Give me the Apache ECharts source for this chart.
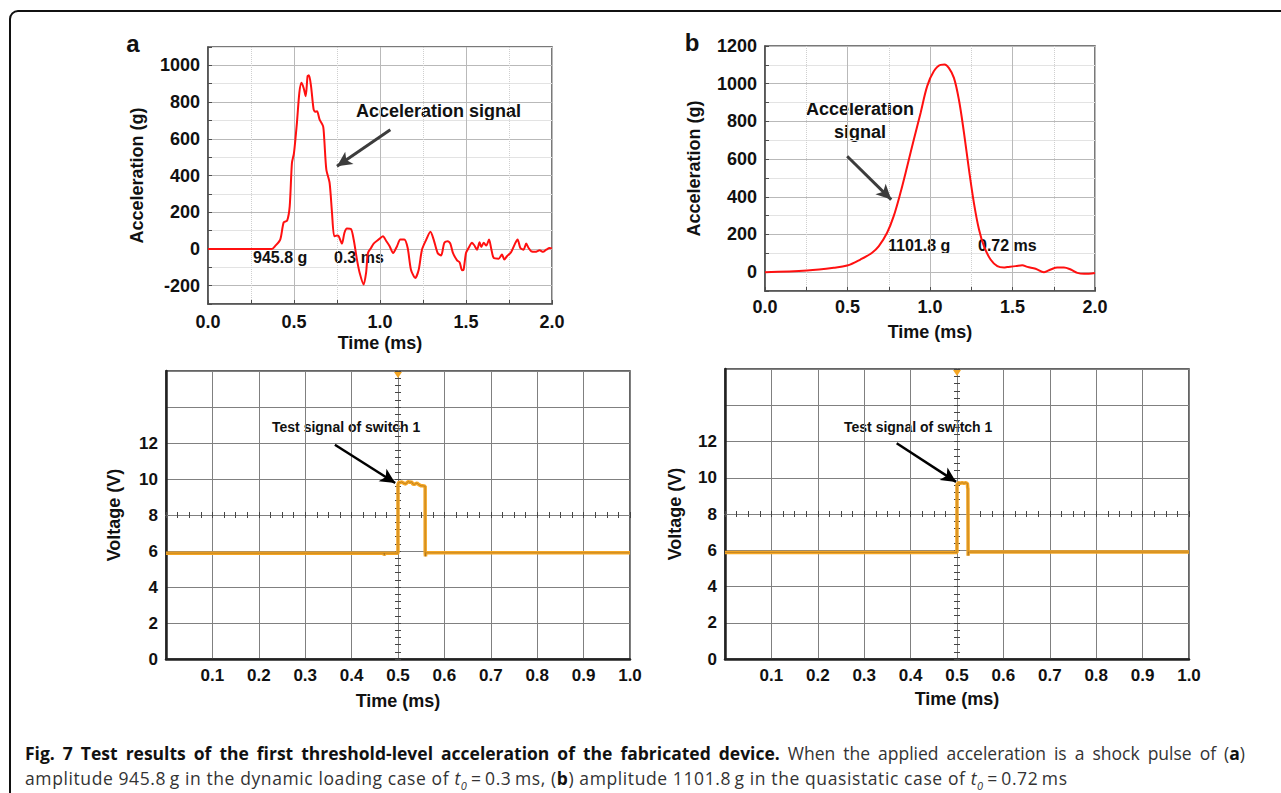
<!DOCTYPE html>
<html>
<head>
<meta charset="utf-8">
<script src="https://cdn.jsdelivr.net/npm/echarts@6/dist/echarts.min.js"></script>
<style>
html, body { margin: 0; padding: 0; background: #fff; }
#wrap { position: relative; width: 1281px; height: 793px; overflow: hidden; }
#frame { position: absolute; left: 9px; top: 10px; width: 1320px; height: 810px; border: 2.5px solid #111; border-radius: 9px; box-sizing: border-box; }
#chart { position: absolute; left: 0; top: 0; width: 1281px; height: 793px; }
.cap { position: absolute; left: 25px; font-family: 'Open Sans', sans-serif; font-size: 17.5px; line-height: 23px; color: #333; }
.cap b { color: #111; }
#cap1 { top: 742px; width: 1220px; text-align: justify; text-align-last: justify; }
#cap2 { top: 767px; white-space: nowrap; letter-spacing: 0.6px; }
</style>
</head>
<body>
<div id="wrap">
  <div id="frame"></div>
  <div id="chart"></div>
  <div class="cap" id="cap1"><b>Fig. 7 Test results of the first threshold-level acceleration of the fabricated device.</b> When the applied acceleration is a shock pulse of (<b>a</b>)</div>
  <div class="cap" id="cap2">amplitude 945.8&thinsp;g in the dynamic loading case of <i>t<sub style="font-size:11px">0</sub></i>&thinsp;=&thinsp;0.3&thinsp;ms, (<b>b</b>) amplitude 1101.8&thinsp;g in the quasistatic case of <i>t<sub style="font-size:11px">0</sub></i>&thinsp;=&thinsp;0.72&thinsp;ms</div>
</div>
<script>
// (a) 加速度信号, 动态加载 t0 = 0.3 ms
var t_a = [0, 0.2, 0.372, 0.39, 0.42, 0.44, 0.46, 0.475, 0.488, 0.5, 0.517, 0.531, 0.543, 0.556, 0.568, 0.579, 0.587, 0.599, 0.614, 0.624,
    0.634, 0.649, 0.669, 0.676, 0.688, 0.707, 0.721, 0.734, 0.75, 0.76, 0.779, 0.793, 0.808, 0.831, 0.847, 0.866, 0.882, 0.905, 0.919, 0.93,
    0.948, 0.963, 0.992, 1.017, 1.037, 1.056, 1.076, 1.099, 1.118, 1.141, 1.161, 1.18, 1.205, 1.225, 1.244, 1.269, 1.293, 1.312, 1.335, 1.355,
    1.374, 1.393, 1.409, 1.424, 1.448, 1.463, 1.477, 1.486, 1.5, 1.515, 1.535, 1.548, 1.564, 1.579, 1.589, 1.603, 1.618, 1.634, 1.647, 1.661,
    1.69, 1.709, 1.723, 1.738, 1.762, 1.787, 1.8, 1.816, 1.835, 1.85, 1.864, 1.88, 1.903, 1.928, 1.948, 1.967, 1.986, 2.0];
var acc_a = [0, 0, 0, 15, 51, 145, 154, 232, 469, 523, 687, 850, 905, 877, 832, 941, 945.8, 887, 760, 747,
    750, 705, 669, 596, 432, 360, 196, 69, 73, 69, 29, 87, 111, 109, 51, -58, -131, -194, -131, -22,
    5, 29, 51, 69, 42, 15, -22, 15, 51, 51, 5, -113, -158, -113, -4, 51, 93, 51, -22, -36,
    33, 42, 29, -22, -62, -73, -116, -113, -22, 5, 33, 20, -4, 36, 11, 33, 18, 51, 0, -49,
    -53, -31, -58, -40, -18, 33, 51, 5, -4, 29, 5, -13, -16, -7, -16, -4, 5, 3];

// (b) 加速度信号, 准静态 t0 = 0.72 ms
var t_b = [0, 0.255, 0.417, 0.498, 0.578, 0.649, 0.69, 0.74, 0.78, 0.821, 0.862, 0.902, 0.943, 0.983, 1.023, 1.064, 1.088, 1.114, 1.145, 1.175,
    1.206, 1.236, 1.266, 1.297, 1.327, 1.367, 1.408, 1.448, 1.468, 1.519, 1.559, 1.59, 1.64, 1.691, 1.731, 1.772, 1.812, 1.853, 1.893, 1.934, 2.0];
var acc_b = [0, 9, 23, 35, 67, 103, 138, 209, 297, 421, 562, 704, 845, 987, 1066, 1100, 1101.8, 1084, 1031, 916,
    739, 545, 368, 226, 138, 67, 32, 25, 27, 32, 37, 28, 18, 0, 14, 25, 25, 14, -4, -9, -4];

// 开关1 测试信号 (示波器)
var t_sw_a = [0, 0.47, 0.4705, 0.471, 0.4999, 0.5, 0.502, 0.505, 0.508, 0.511, 0.514, 0.517, 0.52, 0.523, 0.526, 0.529, 0.532, 0.535,
    0.538, 0.541, 0.544, 0.547, 0.55, 0.553, 0.5585, 0.5586, 0.5592, 0.56, 1.0];
var v_sw_a = [5.88, 5.88, 5.75, 5.88, 5.88, 9.7, 9.82, 9.8, 9.84, 9.78, 9.75, 9.72, 9.82, 9.86, 9.8, 9.85, 9.72, 9.7,
    9.74, 9.78, 9.7, 9.66, 9.62, 9.62, 9.6, 5.9, 5.7, 5.9, 5.9];

var t_sw_b = [0, 0.4999, 0.5, 0.503, 0.507, 0.511, 0.515, 0.519, 0.5225, 0.523, 0.5235, 0.524, 0.5245, 1.0];
var v_sw_b = [5.88, 5.88, 9.62, 9.72, 9.7, 9.72, 9.7, 9.72, 9.68, 9.45, 9.4, 5.7, 5.9, 5.9];

var trig_time = 0.5;

var FONT = "'Liberation Sans', Arial, Helvetica, sans-serif";

function zip(xs, ys) {
    return xs.map(function (x, i) { return [x, ys[i]]; });
}

// 上方两张图的坐标轴
function topX(gridIndex, labelMargin, nameGap) {
    return {
        gridIndex: gridIndex, type: 'value', min: 0, max: 2, interval: 0.5,
        name: 'Time (ms)', nameLocation: 'middle', nameGap: nameGap,
        nameTextStyle: { fontFamily: FONT, fontSize: 18, fontWeight: 'bold', color: '#111' },
        axisLine: { onZero: false, lineStyle: { color: '#4d4d4d', width: 1.5 } },
        axisTick: { inside: true, length: 4, lineStyle: { color: '#4d4d4d' } },
        minorTick: { show: true, splitNumber: 2, length: 4, lineStyle: { color: '#4d4d4d' } },
        axisLabel: {
            margin: labelMargin, fontFamily: FONT, fontSize: 18, fontWeight: 'bold', color: '#111',
            formatter: function (v) { return v.toFixed(1); }
        },
        splitLine: { show: true, lineStyle: { color: '#b9b9b9', width: 1 } },
        minorSplitLine: { show: true, lineStyle: { color: '#cfcfcf', width: 1, type: 'dotted' } }
    };
}

function topY(gridIndex, min, max) {
    return {
        gridIndex: gridIndex, type: 'value', min: min, max: max, interval: 100,
        name: 'Acceleration (g)', nameLocation: 'middle', nameGap: 62,
        nameTextStyle: { fontFamily: FONT, fontSize: 18, fontWeight: 'bold', color: '#111' },
        axisLine: { onZero: false, lineStyle: { color: '#4d4d4d', width: 1.5 } },
        axisTick: { inside: true, length: 4, lineStyle: { color: '#4d4d4d' } },
        axisLabel: {
            margin: 8, fontFamily: FONT, fontSize: 18, fontWeight: 'bold', color: '#111',
            formatter: function (v) { return v % 200 === 0 ? String(v) : ''; }
        },
        splitLine: { show: true, showMinLine: true, showMaxLine: true, lineStyle: { color: ['#e3e3e3', '#b9b9b9'], width: 1 } }
    };
}

// 下方示波器图的坐标轴
function scopeX(gridIndex, nameGap) {
    return {
        gridIndex: gridIndex, type: 'value', min: 0, max: 1, interval: 0.1,
        name: 'Time (ms)', nameLocation: 'middle', nameGap: nameGap,
        nameTextStyle: { fontFamily: FONT, fontSize: 18, fontWeight: 'bold', color: '#111' },
        axisLine: { onZero: false, lineStyle: { color: '#222', width: 2.5 } },
        axisTick: { show: false },
        axisLabel: {
            margin: 8, fontFamily: FONT, fontSize: 17, fontWeight: 'bold', color: '#111',
            formatter: function (v) { return v === 0 ? '' : v.toFixed(1); }
        },
        splitLine: { show: true, lineStyle: { color: '#808080', width: 1 } }
    };
}

function scopeY(gridIndex, nameGap) {
    return {
        gridIndex: gridIndex, type: 'value', min: 0, max: 16, interval: 2,
        name: 'Voltage (V)', nameLocation: 'middle', nameGap: nameGap,
        nameTextStyle: { fontFamily: FONT, fontSize: 18, fontWeight: 'bold', color: '#111' },
        axisLine: { onZero: false, lineStyle: { color: '#222', width: 2.5 } },
        axisTick: { show: false },
        axisLabel: {
            margin: 8, fontFamily: FONT, fontSize: 17, fontWeight: 'bold', color: '#111',
            formatter: function (v) { return v <= 12 ? String(v) : ''; }
        },
        splitLine: { show: true, lineStyle: { color: '#808080', width: 1 } }
    };
}

// 示波器中心十字线上的小刻度
function crossX(gridIndex, position) {
    return {
        gridIndex: gridIndex, type: 'value', min: -0.5, max: 0.5, interval: 0.1, position: position,
        axisLine: { show: true, onZero: true, lineStyle: { color: '#808080', width: 1 } },
        axisTick: { show: true, inside: true, length: 3, lineStyle: { color: '#444' } },
        minorTick: { show: true, splitNumber: 4, length: 3, lineStyle: { color: '#444' } },
        axisLabel: { show: false },
        splitLine: { show: false }
    };
}

function crossY(gridIndex, position) {
    return {
        gridIndex: gridIndex, type: 'value', min: -8, max: 8, interval: 2, position: position,
        axisLine: { show: true, onZero: true, lineStyle: { color: '#808080', width: 1 } },
        axisTick: { show: true, inside: true, length: 3, lineStyle: { color: '#444' } },
        minorTick: { show: true, splitNumber: 5, length: 3, lineStyle: { color: '#444' } },
        axisLabel: { show: false },
        splitLine: { show: false }
    };
}

function arrow(from, to, color, width) {
    return {
        silent: true, symbol: ['none', 'arrow'], symbolSize: [11, 15],
        label: { show: false },
        lineStyle: { color: color, width: width, type: 'solid' },
        emphasis: { disabled: true },
        data: [[{ coord: from }, { coord: to }]]
    };
}

function accSeries(idx, data, smooth, markLine) {
    return {
        type: 'line', xAxisIndex: idx, yAxisIndex: idx, data: data,
        smooth: smooth, showSymbol: false, symbol: 'none',
        lineStyle: { color: '#ff1010', width: 2 },
        markLine: markLine
    };
}

function scopeSeries(idx, data, markLine) {
    return [
        {
            type: 'line', xAxisIndex: idx, yAxisIndex: idx, data: data, showSymbol: false, symbol: 'none',
            lineStyle: { color: '#f5a623', width: 3.5 },
            markLine: markLine,
            markPoint: {
                silent: true, label: { show: false },
                data: [{ coord: [trig_time, 16], symbol: 'triangle', symbolRotate: 180, symbolSize: [8, 6], symbolOffset: [0, 4], itemStyle: { color: '#f5a623' } }]
            }
        },
        {
            type: 'line', xAxisIndex: idx, yAxisIndex: idx, data: data, showSymbol: false, symbol: 'none',
            lineStyle: { color: '#5b4526', width: 0.6, opacity: 0.55 }
        }
    ];
}

function label(x, y, text, size, align) {
    return {
        type: 'text', x: x, y: y, silent: true,
        style: { text: text, font: 'bold ' + size + 'px ' + FONT, fill: '#111', align: align || 'left', verticalAlign: 'middle', lineHeight: 23 }
    };
}

var chart = echarts.init(document.getElementById('chart'), null, { renderer: 'svg' });

var gridA = { left: 208, top: 47, width: 344, height: 257 };
var gridB = { left: 765, top: 46, width: 330, height: 245 };
var gridC = { left: 166, top: 371, width: 464, height: 288 };
var gridD = { left: 725, top: 369, width: 464, height: 290 };

var option = {
    animation: false,
    backgroundColor: 'transparent',
    grid: [
        Object.assign({ show: true, borderColor: '#4d4d4d', borderWidth: 1.5 }, gridA),
        Object.assign({ show: true, borderColor: '#4d4d4d', borderWidth: 1.5 }, gridB),
        Object.assign({ show: true, borderColor: '#333', borderWidth: 1.5 }, gridC),
        Object.assign({ show: true, borderColor: '#333', borderWidth: 1.5 }, gridD),
        Object.assign({}, gridC),
        Object.assign({}, gridD)
    ],
    xAxis: [
        topX(0, 9, 30),
        topX(1, 7, 32),
        scopeX(2, 33),
        scopeX(3, 31),
        crossX(4, 'bottom'),
        crossX(4, 'top'),
        crossX(5, 'bottom'),
        crossX(5, 'top')
    ],
    yAxis: [
        topY(0, -300, 1100),
        topY(1, -100, 1200),
        scopeY(2, 43),
        scopeY(3, 41),
        crossY(4, 'left'),
        crossY(4, 'right'),
        crossY(5, 'left'),
        crossY(5, 'right')
    ],
    series: [
        accSeries(0, zip(t_a, acc_a), 0.25, arrow([1.06, 649], [0.75, 450], '#3c3c3c', 3)),
        accSeries(1, zip(t_b, acc_b), 0.35, arrow([0.498, 615], [0.765, 385], '#3c3c3c', 3))
    ].concat(
        scopeSeries(2, zip(t_sw_a, v_sw_a), arrow([0.364, 11.9], [0.494, 9.78], '#000', 2.5)),
        scopeSeries(3, zip(t_sw_b, v_sw_b), arrow([0.370, 11.9], [0.498, 9.77], '#000', 2.5))
    ),
    graphic: [
        label(133, 43, 'a', 24, 'center'),
        label(692, 42, 'b', 24, 'center'),
        label(356, 111, 'Acceleration signal', 18),
        label(253, 257, '945.8 g', 16),
        label(334, 257, '0.3 ms', 16),
        label(860, 120, 'Acceleration\nsignal', 18, 'center'),
        label(888, 245, '1101.8 g', 16),
        label(978, 245, '0.72 ms', 16),
        label(272, 427, 'Test signal of switch 1', 14),
        label(844, 427, 'Test signal of switch 1', 14)
    ]
};

chart.setOption(option);
</script>
</body>
</html>
